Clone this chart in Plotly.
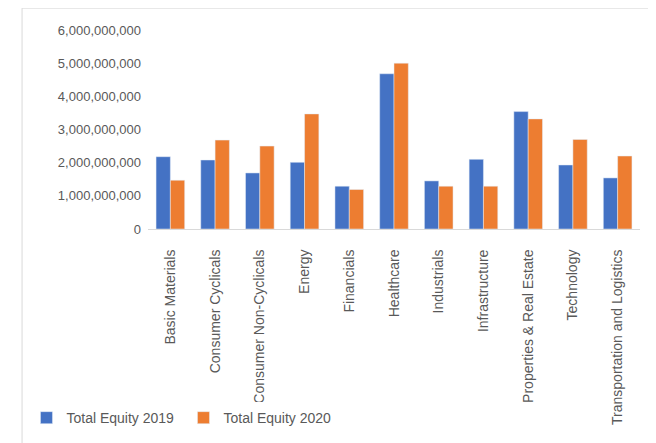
import plotly.graph_objects as go


# =====================================
# DATA
# =====================================

sectors = [
    "Basic Materials",
    "Consumer Cyclicals",
    "Consumer Non-Cyclicals",
    "Energy",
    "Financials",
    "Healthcare",
    "Industrials",
    "Infrastructure",
    "Properties & Real Estate",
    "Technology",
    "Transportation and Logistics",
]

equity_2019 = [2.18e9, 2.08e9, 1.69e9, 2.01e9, 1.29e9, 4.68e9,
               1.45e9, 2.10e9, 3.54e9, 1.93e9, 1.54e9]

equity_2020 = [1.47e9, 2.68e9, 2.50e9, 3.47e9, 1.19e9, 5.00e9,
               1.29e9, 1.29e9, 3.32e9, 2.70e9, 2.20e9]


# =====================================
# CHART
# =====================================

fig = go.Figure()

fig.add_trace(go.Bar(
    x=sectors,
    y=equity_2019,
    name="Total Equity 2019",
    marker_color="#4472C4"
))

fig.add_trace(go.Bar(
    x=sectors,
    y=equity_2020,
    name="Total Equity 2020",
    marker_color="#ED7D31"
))

# page body has an 8px margin, so the figure is a bit smaller than the window
fig.update_layout(
    width=648,
    height=435,
    barmode="group",
    bargap=0.36,
    bargroupgap=0.0,
    paper_bgcolor="white",
    plot_bgcolor="white",
    font=dict(family="Liberation Sans", size=13, color="#595959"),
    margin=dict(l=140, r=16, t=22, b=214, autoexpand=False),
    showlegend=True,
    legend=dict(
        orientation="h",
        x=-0.247,
        xanchor="left",
        y=-0.95,
        yanchor="middle",
        font=dict(size=14, color="#595959"),
        itemwidth=30,
        entrywidth=112,
    ),
    shapes=[
        dict(
            type="line", xref="paper", yref="paper",
            x0=-0.256, x1=1.04, y0=1.11, y1=1.11,
            line=dict(color="#D9D9D9", width=1)
        ),
        dict(
            type="line", xref="paper", yref="paper",
            x0=-0.256, x1=-0.256, y0=1.11, y1=-1.1,
            line=dict(color="#D9D9D9", width=1)
        ),
    ],
)

fig.update_xaxes(
    tickangle=-90,
    showline=True,
    linecolor="#D9D9D9",
    ticks="",
    ticklabelstandoff=14,
    automargin=False,
    tickfont=dict(size=14, color="#595959"),
)

fig.update_yaxes(
    range=[0, 6e9],
    dtick=1e9,
    tickformat=",",
    showgrid=False,
    zeroline=False,
    ticklabelstandoff=6,
    automargin=False,
    tickfont=dict(size=13, color="#595959"),
)

fig.write_html("out.html")
